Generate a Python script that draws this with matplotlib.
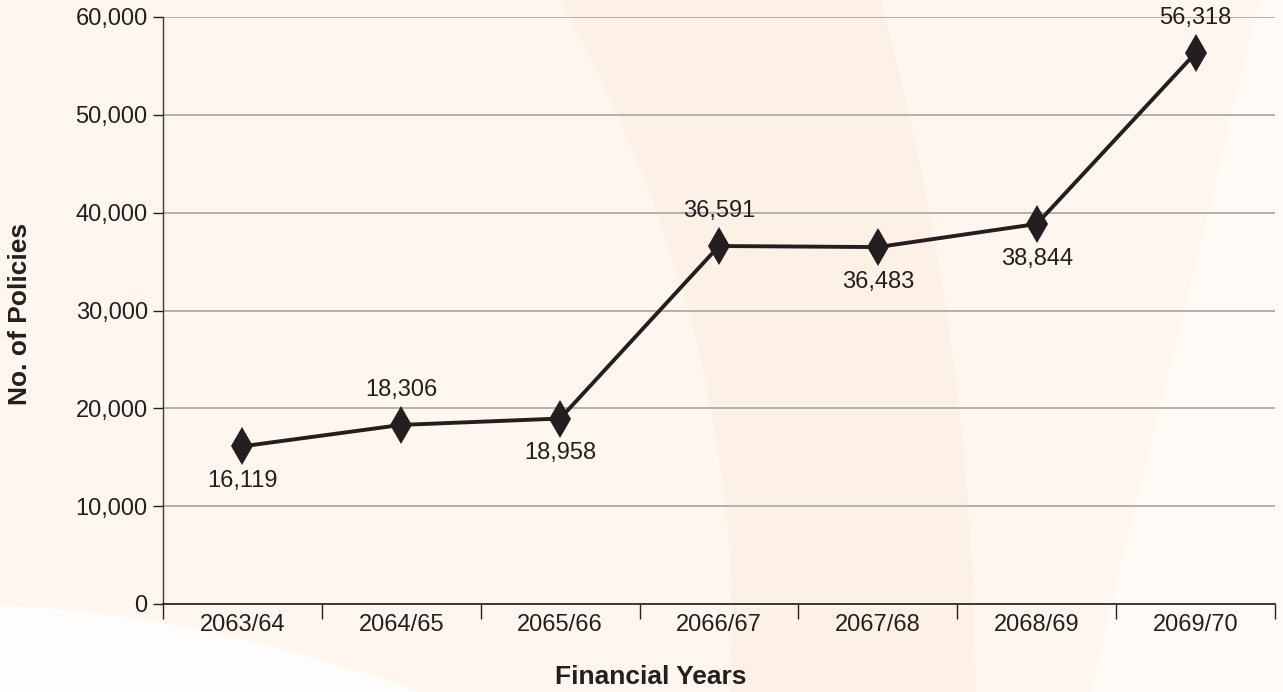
import matplotlib
matplotlib.use("Agg")
import numpy as np
from matplotlib import pyplot as plt
from matplotlib.ticker import FuncFormatter, FixedLocator

plt.rcParams['font.family'] = ['Liberation Sans', 'DejaVu Sans']

years = ['2063/64', '2064/65', '2065/66', '2066/67', '2067/68', '2068/69', '2069/70']
policies = [16119, 18306, 18958, 36591, 36483, 38844, 56318]
# label above (+1) or below (-1) the point
label_side = [-1, 1, -1, 1, -1, -1, 1]

W, H = 1283, 692
fig = plt.figure(figsize=(W / 100, H / 100), dpi=100, facecolor='#fef6ef')

# decorative background swooshes, drawn in pixel coords on a hidden axes
bg = fig.add_axes([0, 0, 1, 1], zorder=-10)
bg.set_xlim(0, W)
bg.set_ylim(H, 0)
bg.axis('off')
t = np.linspace(0, 1, 80)
# whitish area lower left
cx = 420 * t
cy = 606 + 86 * t ** 1.7
bg.fill(np.r_[0, cx, 0], np.r_[606, cy, H], color='#fffdfb', lw=0)
# deeper orange crescent in the middle
yy = np.linspace(0, H, 80)
s = yy / H
left = 560 + 380 * s - 210 * s ** 2
right = 880 + 190 * s - 95 * s ** 2
bg.fill(np.r_[left, right[::-1]], np.r_[yy, yy[::-1]], color='#fdf1e5', lw=0)
# lighter area to the right
rx = 1260 - 170 * s
bg.fill(np.r_[rx, W, W], np.r_[yy, H, 0], color='#fffaf6', lw=0)

ax = fig.add_axes([163 / W, 1 - 604 / H, 1112 / W, 587 / H])
ax.set_facecolor('none')

x = np.arange(len(years))
ax.plot(x, policies, color='#231f20', lw=2.8, marker='d', markersize=19,
        markeredgewidth=0, zorder=3)

for xi, v, sd in zip(x, policies, label_side):
    ax.annotate(f'{v:,}', (xi, v), xytext=(0, 25 * sd), textcoords='offset points',
                ha='center', va='center', fontsize=17, color='#231f20')

ax.set_xlim(-0.5, len(years) - 0.5)
ax.set_ylim(0, 60000)
ax.set_yticks(np.arange(0, 60001, 10000))
ax.yaxis.set_major_formatter(FuncFormatter(lambda v, p: f'{int(v):,}'))
ax.set_xticks(x)
ax.set_xticklabels(years)
ax.xaxis.set_minor_locator(FixedLocator(np.arange(-0.5, len(years), 1)))
ax.tick_params(axis='x', which='major', length=0, pad=7, labelsize=17, colors='#231f20')
ax.tick_params(axis='x', which='minor', length=11, width=1, color='#231f20', direction='out')
ax.tick_params(axis='y', length=7, width=1, color='#231f20', pad=4, labelsize=17,
               labelcolor='#231f20')

ax.grid(axis='y', color='#a6a4a3', lw=1.2)
ax.set_axisbelow(True)
for side in ['top', 'right']:
    ax.spines[side].set_visible(False)
ax.spines['left'].set_color('#3a3a3a')
ax.spines['bottom'].set_color('#231f20')
ax.spines['left'].set_linewidth(1)
ax.spines['bottom'].set_linewidth(1.2)

fig.text(20 / W, 1 - 314 / H, 'No. of Policies', rotation=90, ha='center', va='center',
         fontsize=19, fontweight='bold', color='#231f20')
fig.text(651 / W, 1 - 677 / H, 'Financial Years', ha='center', va='center',
         fontsize=19, fontweight='bold', color='#231f20')

fig.savefig('out.png', dpi=100, facecolor=fig.get_facecolor())
